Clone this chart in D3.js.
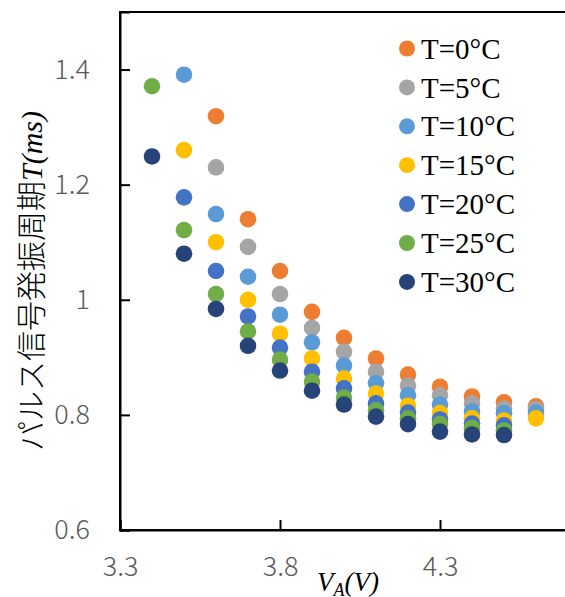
<!DOCTYPE html>
<html><head><meta charset="utf-8">
<script src="https://cdn.jsdelivr.net/npm/d3@7"></script>
<style>html,body{margin:0;padding:0;background:#fff;overflow:hidden}</style>
</head><body>
<svg id="c" width="565" height="597"></svg>
<script>
const voltages = [3.4, 3.5, 3.6, 3.7, 3.8, 3.9, 4.0, 4.1, 4.2, 4.3, 4.4, 4.5, 4.6];
const seriesNames = ["T=0°C", "T=5°C", "T=10°C", "T=15°C", "T=20°C", "T=25°C", "T=30°C"];
const seriesColors = ["#ED7D31", "#A5A5A5", "#5B9BD5", "#FFC000", "#4472C4", "#70AD47", "#264478"];
// null = no point at that voltage
const t0  = [null, null, 1.319, 1.140, 1.050, 0.979, 0.934, 0.898, 0.870, 0.849, 0.832, 0.822, 0.815];
const t5  = [null, null, 1.230, 1.092, 1.010, 0.951, 0.910, 0.875, 0.851, 0.834, 0.820, 0.811, 0.810];
const t10 = [null, 1.391, 1.149, 1.040, 0.974, 0.926, 0.886, 0.855, 0.834, 0.818, 0.806, 0.803, 0.804];
const t15 = [null, 1.260, 1.100, 1.000, 0.941, 0.898, 0.863, 0.837, 0.816, 0.803, 0.794, 0.790, 0.794];
const t20 = [null, 1.178, 1.050, 0.971, 0.917, 0.875, 0.846, 0.820, 0.804, 0.792, 0.785, 0.782, null];
const t25 = [1.371, 1.121, 1.010, 0.945, 0.896, 0.858, 0.830, 0.808, 0.794, 0.784, 0.777, 0.773, null];
const t30 = [1.249, 1.080, 0.984, 0.920, 0.877, 0.842, 0.818, 0.797, 0.784, 0.771, 0.766, 0.765, null];
const seriesValues = [t0, t5, t10, t15, t20, t25, t30];
const xTicks = [3.3, 3.8, 4.3];
const yTicks = [0.6, 0.8, 1.0, 1.2, 1.4];
const yTickLabels = ["0.6", "0.8", "1", "1.2", "1.4"];

const svg = d3.select("#c");
const mL = 120, mR = 600, mT = 12, mB = 530;
const x = d3.scaleLinear().domain([3.3, 4.8]).range([mL, mR]);
const y = d3.scaleLinear().domain([0.6, 1.5]).range([mB, mT]);

// frame
svg.append("rect").attr("x", mL).attr("y", mT).attr("width", mR - mL).attr("height", mB - mT)
  .attr("fill", "none").attr("stroke", "#000").attr("stroke-width", 2);

// axes
const xAxis = d3.axisBottom(x).tickValues(xTicks).tickSize(-10).tickPadding(27).tickFormat(d3.format(".1f"));
const gx = svg.append("g").attr("transform", `translate(0,${mB})`).call(xAxis);
const yAxis = d3.axisLeft(y).tickValues(yTicks).tickSize(-10).tickPadding(30).tickFormat((d,i) => yTickLabels[i]);
const gy = svg.append("g").attr("transform", `translate(${mL},0)`).call(yAxis);
[gx, gy].forEach(g => {
  g.select(".domain").attr("stroke", "#000").attr("stroke-width", 2);
  g.selectAll(".tick line").attr("stroke", "#000").attr("stroke-width", 2);
  g.selectAll(".tick text").attr("fill", "#595959").attr("font-family", "'Noto Sans CJK JP','Noto Sans',sans-serif")
    .attr("font-weight", 300).attr("font-size", 27);
});

// points
seriesValues.forEach((vals, si) => {
  svg.append("g").selectAll("circle")
    .data(voltages.map((v, i) => ({v, t: vals[i]})).filter(d => d.t !== null))
    .join("circle")
    .attr("cx", d => x(d.v)).attr("cy", d => y(d.t)).attr("r", 8.3)
    .attr("fill", seriesColors[si]);
});

// legend
const lg = svg.append("g");
seriesNames.forEach((name, i) => {
  const yy = 48.5 + i * 38.9;
  lg.append("circle").attr("cx", 407).attr("cy", yy).attr("r", 8).attr("fill", seriesColors[i]);
  lg.append("text").attr("x", 421).attr("y", yy).attr("dy", "0.35em")
    .attr("font-family", "'Liberation Serif','Times New Roman',serif").attr("font-size", 29)
    .attr("fill", "#000").text(name);
});

// x title
const xt = svg.append("text").attr("x", 317).attr("y", 591)
  .attr("font-family", "'Liberation Serif','Times New Roman',serif").attr("font-size", 27)
  .attr("font-style", "italic").attr("fill", "#000");
xt.append("tspan").text("V");
xt.append("tspan").attr("font-size", 18).attr("dy", 5).text("A");
xt.append("tspan").attr("dy", -5).text("(V)");

// y title
const yt = svg.append("text").attr("transform", "translate(42,281) rotate(-90)")
  .attr("text-anchor", "middle").attr("fill", "#000").attr("font-size", 30);
yt.append("tspan").attr("font-family", "'Noto Sans CJK JP',sans-serif").attr("font-weight", 300).text("パルス信号発振周期");
yt.append("tspan").attr("font-family", "'Liberation Serif',serif").attr("font-style", "italic").text("T(ms)");
</script>
</body></html>
